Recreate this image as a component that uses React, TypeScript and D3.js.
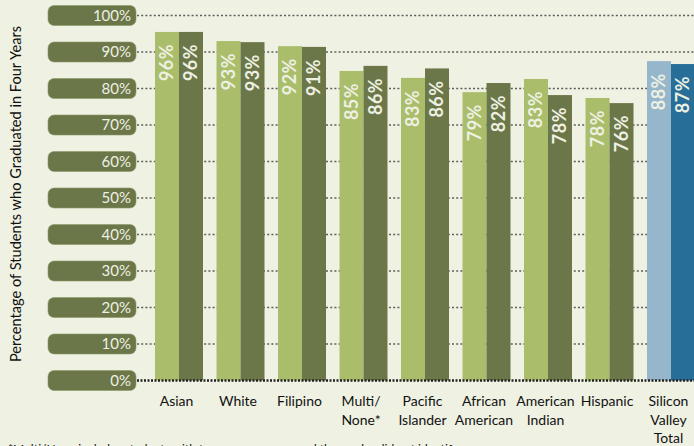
import React from "react";
import * as d3 from "d3";

const categories = ["Asian", "White", "Filipino", "Multi/\nNone*", "Pacific\nIslander", "African\nAmerican", "American\nIndian", "Hispanic", "Silicon\nValley\nTotal"];
const seriesA = [95.5, 93.0, 91.6, 84.8, 82.9, 79.0, 82.6, 77.4, 87.5];
const seriesB = [95.5, 92.7, 91.4, 86.2, 85.5, 81.5, 78.2, 76.0, 86.7];
const labelsA = ["96%", "93%", "92%", "85%", "83%", "79%", "83%", "78%", "88%"];
const labelsB = ["96%", "93%", "91%", "86%", "86%", "82%", "78%", "76%", "87%"];
const yTicks = [0, 10, 20, 30, 40, 50, 60, 70, 80, 90, 100];
const yTitle = "Percentage of Students who Graduated in Four Years";
const footnote = "*Multi/None includes students with two or more races and those who did not identify a race.";

const W = 694;
const H = 446;
const BG = "#eff2e3";
const LIGHT = "#a9bd6b";
const DARK = "#6b7749";
const LIGHT_T = "#95b6cb";
const DARK_T = "#276f98";
const TXT = "#eef0e2";
const FONT = "Lato, 'Open Sans', sans-serif";

export default function App() {
  const x = d3.scaleBand<string>().domain(categories).range([155, 695]).paddingInner(13.5 / 61.5).paddingOuter(0);
  const y = d3.scaleLinear().domain([0, 100]).range([380.5, 15.5]);
  const bw = x.bandwidth() / 2;
  const total = categories.length - 1;

  return (
    <svg width={W} height={H} style={{ position: "absolute", left: 0, top: 0, background: BG }} fontFamily={FONT}>
      <rect x={0} y={0} width={W} height={H} fill={BG} />
      {/* gridlines */}
      {yTicks.filter((t) => t > 0).map((t) => (
        <line key={"g" + t} x1={137} x2={W} y1={y(t)} y2={y(t)}
          stroke="#444" strokeWidth={1.5} strokeDasharray="2,2.2" opacity={0.85} />
      ))}
      {/* pills */}
      {yTicks.map((t) => (
        <g key={"p" + t}>
          <rect x={48} y={y(t) - 10} width={88} height={20} rx={6} fill={DARK} stroke="#8c9868" strokeWidth={0.6} />
          <text x={131} y={y(t)} dy="0.36em" textAnchor="end" fill={TXT} fontSize={15}>{t + "%"}</text>
        </g>
      ))}
      {/* bars */}
      {categories.map((c, i) => {
        const x0 = x(c)!;
        const isT = i === total;
        const bars = [
          { v: seriesA[i], l: labelsA[i], fill: isT ? LIGHT_T : LIGHT, bx: x0 },
          { v: seriesB[i], l: labelsB[i], fill: isT ? DARK_T : DARK, bx: x0 + bw },
        ];
        return (
          <g key={"b" + c}>
            {bars.map((b, j) => (
              <g key={j}>
                <rect x={b.bx} y={y(b.v)} width={bw} height={y(0) - y(b.v)} fill={b.fill} />
                <text transform={`translate(${b.bx + bw / 2},${y(b.v) + 12}) rotate(-90)`} dy="0.36em"
                  textAnchor="end" fill={TXT} fontSize={18} fontWeight="bold" letterSpacing={0.5}>{b.l}</text>
              </g>
            ))}
          </g>
        );
      })}
      {/* baseline */}
      <line x1={137} x2={W} y1={y(0)} y2={y(0)} stroke="#222" strokeWidth={2.5} strokeDasharray="2,1.5" />
      {/* x labels */}
      {categories.map((c) => (
        <text key={"x" + c} x={x(c)! + x.bandwidth() / 2 - 2.5} y={406} textAnchor="middle" fill="#111" fontSize={14}>
          {c.split("\n").map((ln, k) => (
            <tspan key={k} x={x(c)! + x.bandwidth() / 2 - 2.5} dy={k === 0 ? 0 : 18.5}>{ln}</tspan>
          ))}
        </text>
      ))}
      {/* y title */}
      <text transform={`translate(21,194) rotate(-90)`} textAnchor="middle" fill="#111" fontSize={14.6}>{yTitle}</text>
      {/* footnote */}
      <text x={8} y={453} fill="#111" fontSize={12}>{footnote}</text>
    </svg>
  );
}
